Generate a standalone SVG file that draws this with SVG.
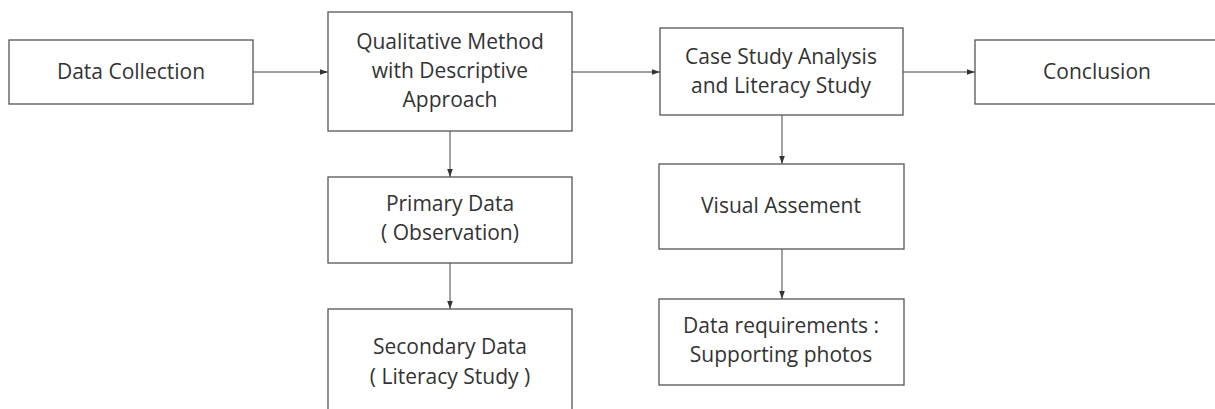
<svg xmlns="http://www.w3.org/2000/svg" width="1215" height="409" viewBox="0 0 1215 409">
<defs>
<style>
.box{fill:#fff;stroke:#555;stroke-width:1.3}
.t{font-family:"Open Sans","Liberation Sans",sans-serif;font-size:21px;fill:#333;text-anchor:middle}
.c{stroke:#444;stroke-width:1;fill:none;marker-end:url(#ah)}
</style>
<marker id="ah" viewBox="0 0 10 10" refX="10" refY="5" markerWidth="8" markerHeight="8" markerUnits="userSpaceOnUse" orient="auto">
<path d="M0,1.5 L10,5 L0,8.5 z" fill="#333"/>
</marker>
</defs>
<rect width="1215" height="409" fill="#fff"/>
<g id="connectors">
<line class="c" x1="253" y1="72" x2="328" y2="72"/>
<line class="c" x1="572" y1="72" x2="660" y2="72"/>
<line class="c" x1="903" y1="72" x2="975" y2="72"/>
<line class="c" x1="450" y1="131" x2="450" y2="177"/>
<line class="c" x1="450" y1="263" x2="450" y2="309"/>
<line class="c" x1="782" y1="115" x2="782" y2="164"/>
<line class="c" x1="782" y1="249" x2="782" y2="299"/>
</g>
<g id="data-collection">
<rect class="box" x="9" y="40" width="244" height="64"/>
<text class="t" x="131" y="79">Data Collection</text>
</g>
<g id="qualitative">
<rect class="box" x="328" y="12" width="244" height="119"/>
<text class="t" x="450" y="49">Qualitative Method</text>
<text class="t" x="450" y="78">with Descriptive</text>
<text class="t" x="450" y="107">Approach</text>
</g>
<g id="case-study">
<rect class="box" x="660" y="28" width="243" height="87"/>
<text class="t" x="781" y="64">Case Study Analysis</text>
<text class="t" x="781" y="93">and Literacy Study</text>
</g>
<g id="conclusion">
<rect class="box" x="975" y="40" width="260" height="64"/>
<text class="t" x="1097" y="79">Conclusion</text>
</g>
<g id="primary-data">
<rect class="box" x="328" y="177" width="244" height="86"/>
<text class="t" x="450" y="211">Primary Data</text>
<text class="t" x="450" y="240">( Observation)</text>
</g>
<g id="secondary-data">
<rect class="box" x="328" y="309" width="244" height="120"/>
<text class="t" x="450" y="354">Secondary Data</text>
<text class="t" x="450" y="384">( Literacy Study )</text>
</g>
<g id="visual-assement">
<rect class="box" x="659" y="164" width="245" height="85"/>
<text class="t" x="781" y="213">Visual Assement</text>
</g>
<g id="data-requirements">
<rect class="box" x="659" y="299" width="245" height="86"/>
<text class="t" x="781" y="333">Data requirements :</text>
<text class="t" x="781" y="362">Supporting photos</text>
</g>
</svg>
